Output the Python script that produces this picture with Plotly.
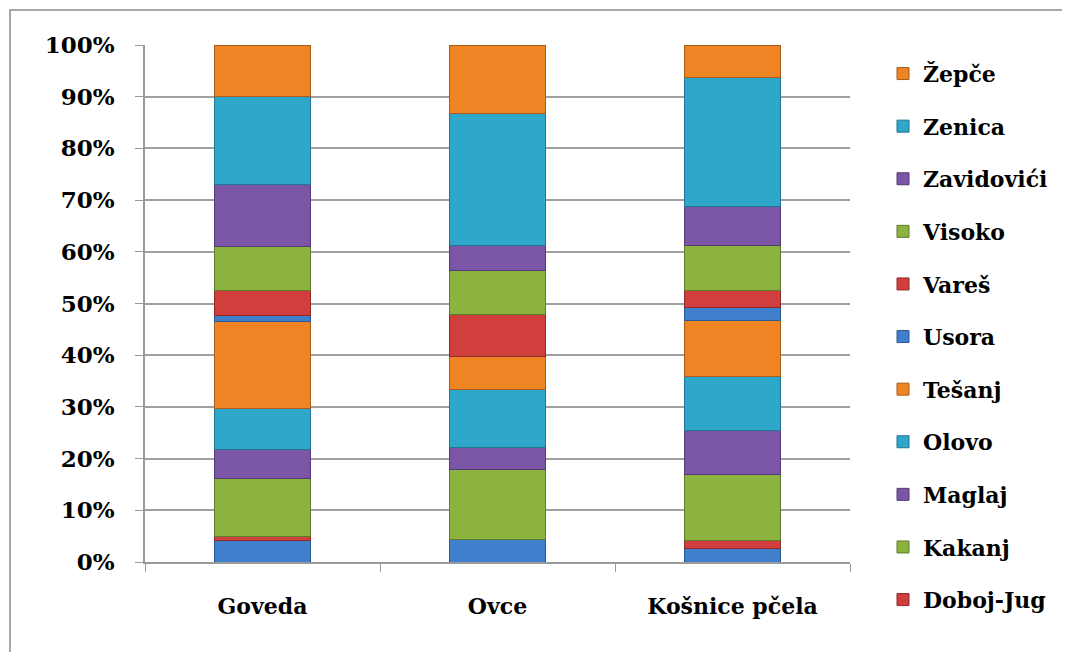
import plotly.graph_objects as go

categories = ["Goveda", "Ovce", "Košnice pčela"]

series_names = ["Breza", "Doboj-Jug", "Kakanj", "Maglaj", "Olovo", "Tešanj",
                "Usora", "Vareš", "Visoko", "Zavidovići", "Zenica", "Žepče"]

breza = [4.1, 4.4, 2.7]
doboj_jug = [0.9, 0.0, 1.4]
kakanj = [11.1, 13.5, 12.9]
maglaj = [5.6, 4.2, 8.5]
olovo = [7.9, 11.3, 10.3]
tesanj = [16.9, 6.3, 11.0]
usora = [1.1, 0.0, 2.4]
vares = [4.9, 8.1, 3.4]
visoko = [8.6, 8.5, 8.6]
zavidovici = [12.0, 4.9, 7.5]
zenica = [16.9, 25.6, 25.0]
zepce = [10.0, 13.2, 6.3]

series_values = [breza, doboj_jug, kakanj, maglaj, olovo, tesanj,
                 usora, vares, visoko, zavidovici, zenica, zepce]

colors = ["#3F7FCB", "#D03E3E", "#8CB23F", "#7B56A6", "#2FA7CB", "#EE8424",
          "#3F7FCB", "#D03E3E", "#8CB23F", "#7B56A6", "#2FA7CB", "#EE8424"]
outlines = ["#2A5A95", "#8E2A2A", "#5E7A2A", "#553A75", "#1F7690", "#A85C18",
            "#2A5A95", "#8E2A2A", "#5E7A2A", "#553A75", "#1F7690", "#A85C18"]

tick_vals = [0, 10, 20, 30, 40, 50, 60, 70, 80, 90, 100]
tick_text = ["0%", "10%", "20%", "30%", "40%", "50%", "60%", "70%", "80%", "90%", "100%"]

font_family = "DejaVu Serif"

fig = go.Figure()
n = len(series_names)
for i, (name, vals) in enumerate(zip(series_names, series_values)):
    fig.add_trace(go.Bar(
        x=categories, y=vals, name=name,
        marker=dict(color=colors[i], line=dict(color=outlines[i], width=1)),
        legendgroup=name,
        legendrank=100 + (n - i),
        showlegend=(name != "Breza"),
    ))

# page body has an 8px margin, so the figure is drawn at (8, 8)
W, H = 1062, 644
L, T, B = 137, 37, 90
R = W - 842
PW = 842 - L          # plot width in px
PH = H - T - B        # plot height in px

fig.update_layout(
    barmode="stack",
    bargap=0.59,
    width=W, height=H,
    margin=dict(l=L, r=R, t=T, b=B),
    paper_bgcolor="white",
    plot_bgcolor="white",
    font=dict(family=font_family, size=20, color="black"),
    legend=dict(
        traceorder="grouped",
        x=(883 - 145) / PW, xanchor="left",
        y=0.985, yanchor="top",
        font=dict(family=font_family, size=22, color="black", weight="bold"),
        tracegroupgap=21,
        itemwidth=30,
        maxheight=900,
        bgcolor="rgba(0,0,0,0)",
    ),
    xaxis=dict(
        showline=True, linecolor="#9A9A9A", linewidth=1.5,
        ticks="outside", tickson="boundaries", ticklen=8, tickcolor="#9A9A9A",
        tickfont=dict(family=font_family, size=22, color="black", weight="bold"),
        ticklabelstandoff=24,
        showgrid=False,
    ),
    yaxis=dict(
        range=[0, 100],
        tickvals=tick_vals, ticktext=tick_text,
        showline=True, linecolor="#9A9A9A", linewidth=1.5,
        ticks="outside", ticklen=8, tickcolor="#9A9A9A",
        showgrid=True, gridcolor="#A0A0A0", gridwidth=1.5,
        tickfont=dict(family=font_family, size=23, color="black", weight="bold"),
        ticklabelstandoff=16,
        zeroline=False,
    ),
    shapes=[dict(
        type="rect", xref="paper", yref="paper",
        x0=(10 - 145) / PW, x1=(1100 - 145) / PW,
        y0=(562 - 700) / PH, y1=(562 - 10) / PH,
        line=dict(color="#8C8C8C", width=1.5),
        fillcolor="rgba(0,0,0,0)", layer="below",
    )],
)

fig.write_html("out.html")
